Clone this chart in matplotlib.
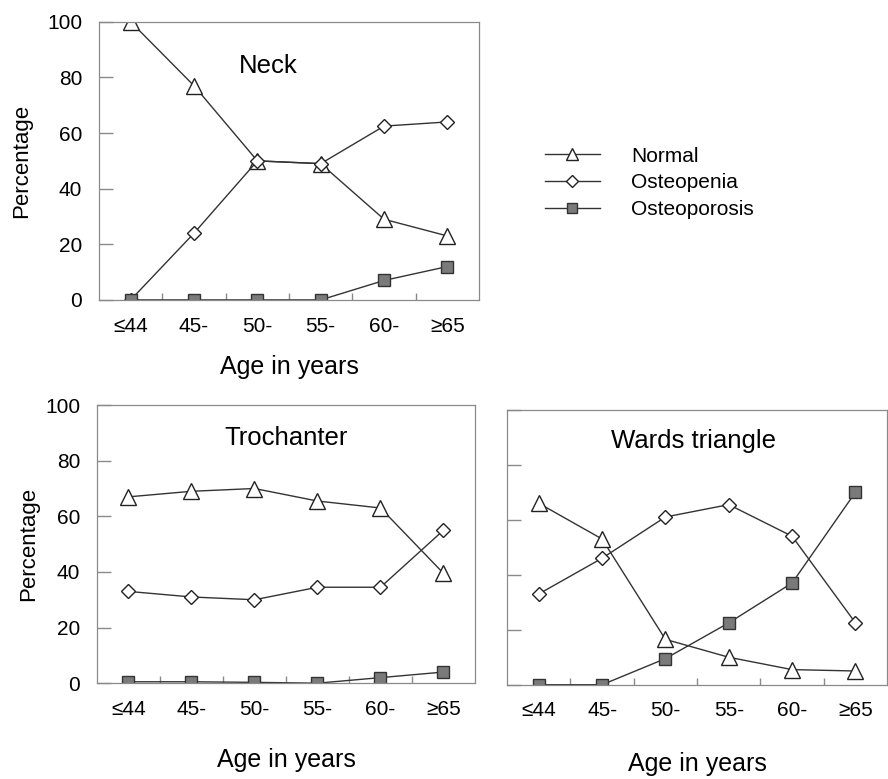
import numpy as np
import matplotlib
matplotlib.use("Agg")
import matplotlib.pyplot as plt

plt.rcParams['font.family'] = ['Liberation Sans', 'DejaVu Sans']

# Data
ages = ['\u226444', '45-', '50-', '55-', '60-', '\u226565']

neck_normal = [100, 77, 50, 49, 29, 23]
neck_osteopenia = [0, 24, 50, 49, 62.5, 64]
neck_osteoporosis = [0, 0, 0, 0, 7, 12]

troch_normal = [67, 69, 70, 65.5, 63, 39.5]
troch_osteopenia = [33, 31, 30, 34.5, 34.5, 55]
troch_osteoporosis = [0.5, 0.5, 0.3, 0, 2, 4]

wards_normal = [66, 53, 16.5, 10, 5.5, 5]
wards_osteopenia = [33, 46, 61, 65.5, 54, 22.5]
wards_osteoporosis = [0, 0, 9.5, 22.5, 37, 70]

series_names = ['Normal', 'Osteopenia', 'Osteoporosis']

line_col = '#333333'
spine_col = '#8a8a8a'


def draw_panel(ax, normal, osteopenia, osteoporosis, title, title_xy,
               ylabels=True, xpad=13, ypad=4):
    x = np.arange(len(ages))
    h1, = ax.plot(x, normal, '-', color=line_col, lw=1.0, marker='^', ms=11,
                  mfc='white', mec='#222222', mew=1.0, label=series_names[0])
    h2, = ax.plot(x, osteopenia, '-', color=line_col, lw=1.0, marker='D', ms=7,
                  mfc='white', mec='#222222', mew=1.0, label=series_names[1])
    h3, = ax.plot(x, osteoporosis, '-', color=line_col, lw=1.0, marker='s', ms=8,
                  mfc='#7a7a7a', mec='#333333', mew=1.0, label=series_names[2])
    ax.set_xlim(-0.5, 5.5)
    ax.set_ylim(0, 100)
    ax.set_xticks(x)
    ax.set_xticklabels(ages)
    ax.set_xticks(np.arange(0.5, 5, 1), minor=True)
    ax.set_yticks([0, 20, 40, 60, 80, 100])
    if not ylabels:
        ax.set_yticklabels([])
    ax.tick_params(axis='y', direction='in', length=10, width=1, color=spine_col,
                   labelsize=15, pad=12)
    ax.tick_params(axis='x', which='major', length=0, labelsize=15, pad=12)
    ax.tick_params(axis='x', which='minor', direction='in', length=5, width=1,
                   color=spine_col)
    for s in ax.spines.values():
        s.set_color(spine_col)
        s.set_linewidth(0.9)
    ax.set_xlabel('Age in years', fontsize=18, labelpad=xpad)
    if ylabels:
        ax.set_ylabel('Percentage', fontsize=16, labelpad=ypad)
    ax.text(title_xy[0], title_xy[1], title, transform=ax.transAxes,
            ha='center', va='center', fontsize=18.5)
    return [h1, h2, h3]


fig = plt.figure(figsize=(8.88, 7.79), dpi=100)

ax_neck = fig.add_axes([0.1115, 0.615, 0.428, 0.357])
ax_troch = fig.add_axes([0.1092, 0.123, 0.4257, 0.357])
ax_wards = fig.add_axes([0.571, 0.121, 0.428, 0.353])

handles = draw_panel(ax_neck, neck_normal, neck_osteopenia, neck_osteoporosis,
                     'Neck', (0.445, 0.84), xpad=14, ypad=11)
draw_panel(ax_troch, troch_normal, troch_osteopenia, troch_osteoporosis,
           'Trochanter', (0.5, 0.88), xpad=21, ypad=4)
draw_panel(ax_wards, wards_normal, wards_osteopenia, wards_osteoporosis,
           'Wards triangle', (0.49, 0.885), ylabels=False, xpad=23)

fig.legend(handles, series_names, loc='upper left',
           bbox_to_anchor=(0.593, 0.836), frameon=False, fontsize=15,
           handlelength=2.6, handletextpad=1.5, labelspacing=0.38,
           markerscale=0.85)

fig.savefig('out.png', dpi=100)
